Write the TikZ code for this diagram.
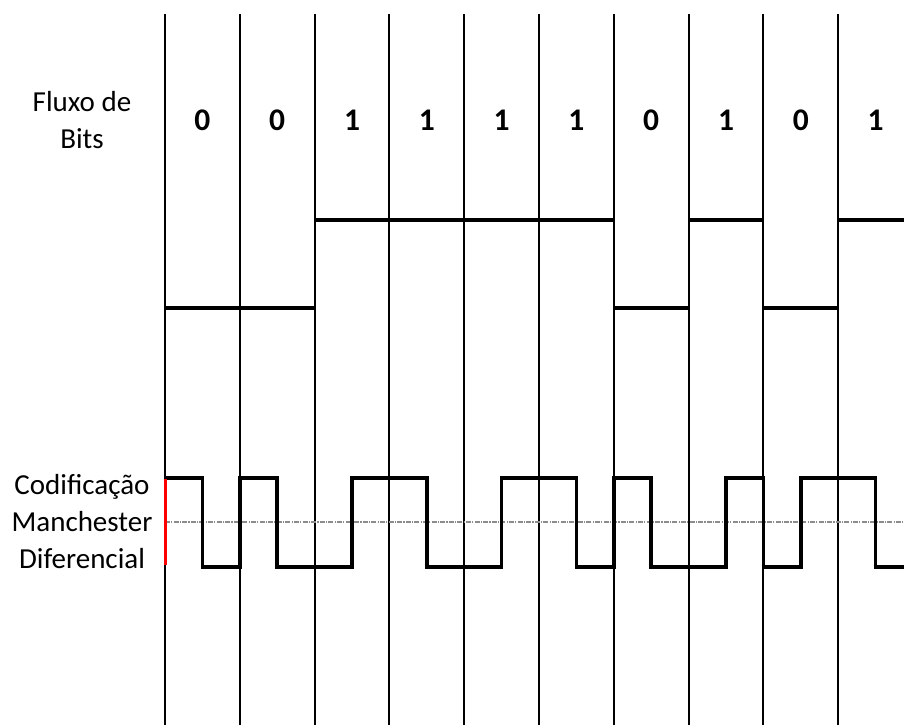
\documentclass[tikz,border=0pt]{standalone}
\usepackage{fontspec}
\setmainfont{Carlito}
\begin{document}
\begin{tikzpicture}[x=1pt,y=-1pt,
  grid/.style={line width=1.9pt,black},
  signal/.style={line width=3.7pt,black,line join=miter},
  midline/.style={line width=1.3pt,gray!90,dash pattern=on 5pt off 1.2pt on 1.2pt off 1.2pt},
  caption/.style={font=\fontsize{29}{37}\selectfont,align=center,inner sep=0pt},
  bit/.style={font=\fontsize{31.5}{32}\selectfont\bfseries,inner sep=0pt,anchor=base}]
\useasboundingbox (0,0) rectangle (904,725);
\def\w{74.8}
% bit-cell boundaries
\foreach \k in {0,...,9}{
  \draw[grid] ({165+\k*\w},14) -- ({165+\k*\w},725);
}
% bit values
\foreach \b [count=\k from 0] in {0,0,1,1,1,1,0,1,0,1}{
  \node[bit] (bit\k) at ({165+(\k+0.5)*\w},130) {\b};
}
\node[caption] (flux) at (82,120) {Fluxo de\\Bits};
\node[caption] (code) at (82,522) {Codificação\\Manchester\\Diferencial};
% NRZ levels
\draw[signal] (165,308) -- (314.6,308);
\draw[signal] (314.6,220) -- (613.8,220);
\draw[signal] (613.8,308) -- (688.6,308);
\draw[signal] (688.6,220) -- (763.4,220);
\draw[signal] (763.4,308) -- (838.2,308);
\draw[signal] (838.2,220) -- (904,220);
% reference level
\draw[midline] (165,522) -- (904,522);
% differential Manchester waveform
\draw[signal] (165,478) -- (202.4,478) -- (202.4,567) -- (239.8,567) -- (239.8,478)
  -- (277.2,478) -- (277.2,567) -- (352,567) -- (352,478) -- (426.8,478)
  -- (426.8,567) -- (501.6,567) -- (501.6,478) -- (576.4,478) -- (576.4,567)
  -- (613.8,567) -- (613.8,478) -- (651.2,478) -- (651.2,567) -- (726,567)
  -- (726,478) -- (763.4,478) -- (763.4,567) -- (800.8,567) -- (800.8,478)
  -- (875.6,478) -- (875.6,567) -- (904,567);
\draw[line width=3pt,red] (165,479) -- (165,565);
\end{tikzpicture}
\end{document}
